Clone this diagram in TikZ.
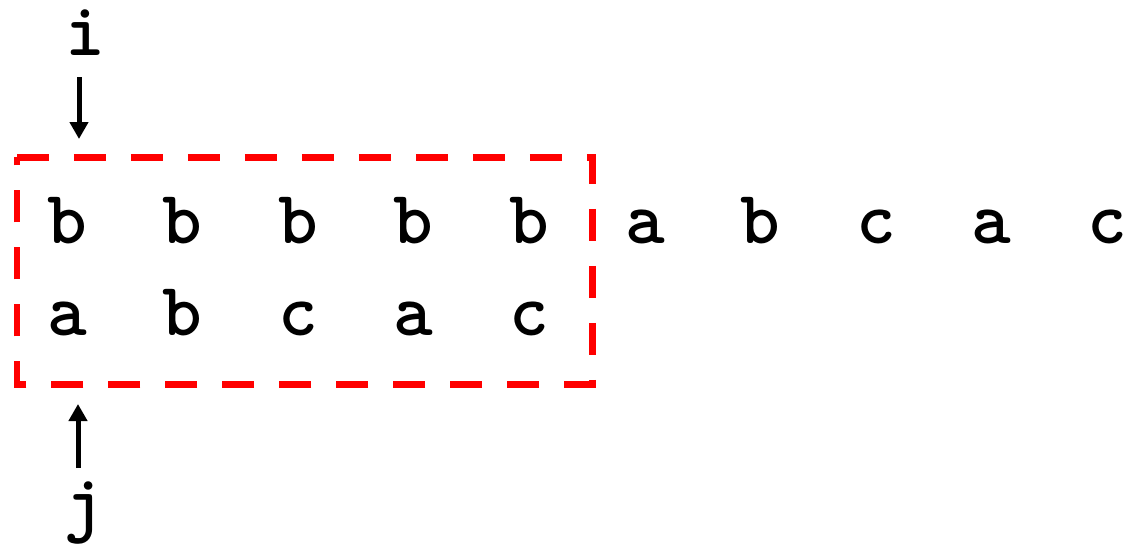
\documentclass[tikz,border=0pt]{standalone}
\usepackage{xcolor}
\usetikzlibrary{arrows.meta, positioning, calc}

\begin{document}
\begin{tikzpicture}[x=0.02cm, y=-0.02cm,
    every node/.style={font=\fontsize{43}{50}\selectfont\ttfamily\bfseries, anchor=base, inner sep=0pt},
    pointer/.style={-{Triangle[length=3.4mm, width=3.6mm]}, line width=1mm},
    window/.style={draw=red, line width=1.4mm, dash pattern=on 6.4mm off 5mm}]
    \useasboundingbox (0,0) rectangle (1133,549);
    % text row
    \foreach \ch [count=\k] in {b,b,b,b,b,a,b,c,a,c}
        \node (t\k) at ({67+115.6*(\k-1)},243) {\ch};
    % pattern row
    \foreach \ch [count=\k] in {a,b,c,a,c}
        \node (p\k) at ({67+115.6*(\k-1)},335) {\ch};
    % window
    \coordinate (wtl) at (17,157);
    \coordinate (wbr) at (592,384);
    \draw[window] (wtl) -- (wtl -| wbr) -- (wbr) -- (wbr -| wtl) -- cycle;
    % pointers
    \node (i) at (85,55) {i};
    \node (j) at (84,527) {j};
    \coordinate (ifrom) at (79,77);
    \coordinate (ito) at (79,139);
    \coordinate (jfrom) at (78,468);
    \coordinate (jto) at (78,404);
    \draw[pointer] (ifrom) -- (ito);
    \draw[pointer] (jfrom) -- (jto);
\end{tikzpicture}
\end{document}
